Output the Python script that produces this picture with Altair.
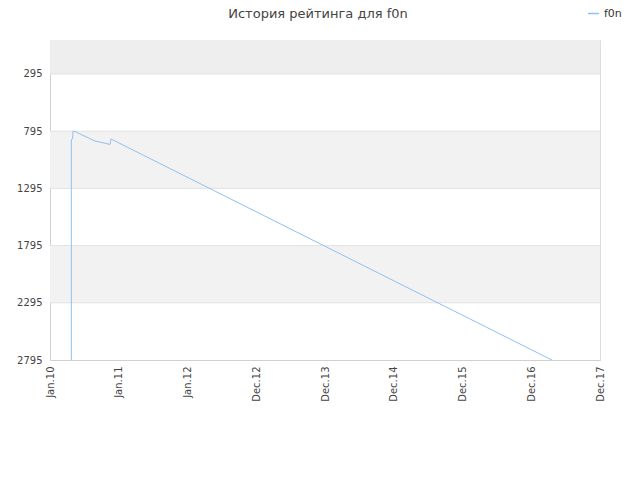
import altair as alt
import pandas as pd

# tick labels at evenly spaced positions 0..8
x_labels = ["Jan.10", "Jan.11", "Jan.12", "Dec.12", "Dec.13", "Dec.14", "Dec.15", "Dec.16", "Dec.17"]
y_ticks = [295, 795, 1295, 1795, 2295, 2795]
title_text = "История рейтинга для f0n"

# rating history (x in tick-position units, y rating place)
pos = [0.31, 0.31, 0.31, 0.33, 0.335, 0.35, 0.655, 0.77, 0.873, 0.887, 7.30]
rating = [2795, 959, 872, 855, 795, 795, 881, 896, 911, 863, 2795]
series = "f0n"

band_lo = [-2, 795, 1795]
band_hi = [295, 1295, 2295]
band_col = ["#eeeeee", "#f2f2f2", "#f2f2f2"]

df = pd.DataFrame({"x": pos, "y": rating, "idx": list(range(len(pos))), "s": [series] * len(pos)})
bands = pd.DataFrame({"lo": band_lo, "hi": band_hi, "c": band_col})
grid = pd.DataFrame({"y": y_ticks[:-1]})
tdf = pd.DataFrame({"t": [title_text]})

yscale = alt.Scale(domain=[-2, 2795], reverse=True, nice=False, zero=False)
xscale = alt.Scale(domain=[0, 8], nice=False, zero=False)

label_expr = "[" + ",".join("'" + l + "'" for l in x_labels) + "][datum.value]"

yaxis = alt.Axis(values=y_ticks, format="d", labelFontSize=10, labelColor="#444444",
                 ticks=False, domainColor="#d0d0d0", grid=False, labelPadding=8)

bg = alt.Chart(bands).mark_rect().encode(
    x=alt.value(0), x2=alt.value(550),
    y=alt.Y("lo:Q", scale=yscale, title=None, axis=yaxis),
    y2="hi:Q",
    color=alt.Color("c:N", scale=None),
)

rules = alt.Chart(grid).mark_rule(color="#e2e2e2", strokeWidth=1).encode(
    y=alt.Y("y:Q", scale=yscale, title=None, axis=yaxis),
    x=alt.value(0), x2=alt.value(550),
)

line = alt.Chart(df).mark_line(strokeWidth=1, clip=True).encode(
    x=alt.X("x:Q", scale=xscale, title=None,
            axis=alt.Axis(values=list(range(9)), labelExpr=label_expr, labelAngle=270,
                          labelAlign="right", labelBaseline="middle", labelFontSize=10,
                          labelColor="#444444", ticks=False, domainColor="#d0d0d0",
                          labelPadding=6, grid=False)),
    y=alt.Y("y:Q", scale=yscale, title=None, axis=yaxis),
    order="idx:Q",
    color=alt.Color("s:N", scale=alt.Scale(range=["#8ec1f3"]),
                    legend=alt.Legend(title=None, orient="none", legendX=537, legendY=-33,
                                      symbolType="stroke", symbolStrokeWidth=1.5, symbolSize=120,
                                      labelFontSize=11, labelColor="#333333")),
)

title = alt.Chart(tdf).mark_text(fontSize=13, color="#444444", align="center",
                                 baseline="alphabetic", font="DejaVu Sans", clip=False).encode(
    x=alt.value(268), y=alt.value(-22), text="t:N")

chart = alt.layer(bg, rules, line, title).properties(
    width=550, height=320,
    autosize=alt.AutoSizeParams(type="none"),
    padding={"left": 42, "top": 32, "right": 32, "bottom": 60},
).configure_view(stroke="#dddddd").configure(font="DejaVu Sans")

chart.save("out.html", embed_options={"renderer": "svg", "actions": False})
